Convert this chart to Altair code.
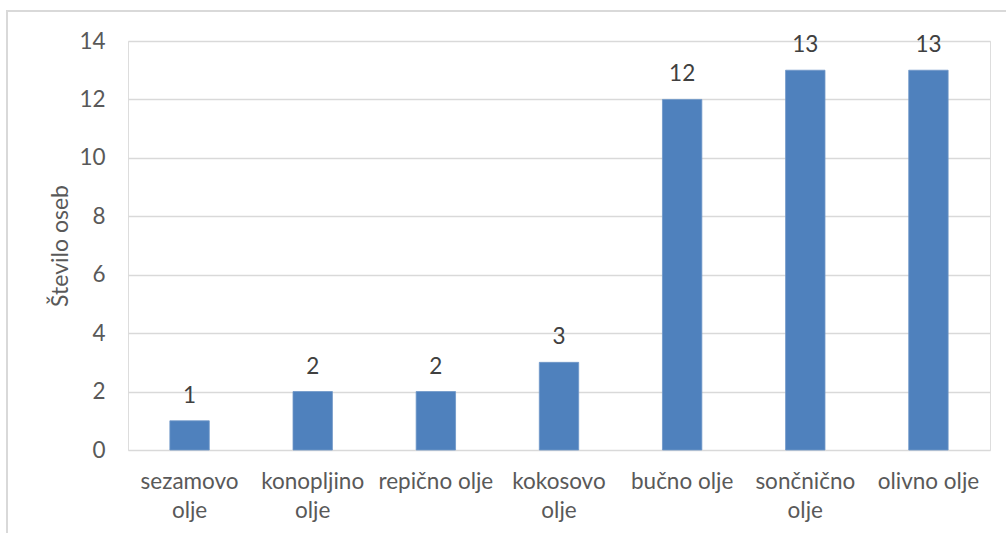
import altair as alt
import pandas as pd

# Number of respondents per type of oil
oils = [
    "sezamovo olje",
    "konopljino olje",
    "repično olje",
    "kokosovo olje",
    "bučno olje",
    "sončnično olje",
    "olivno olje",
]
counts = [1, 2, 2, 3, 12, 13, 13]
y_ticks = [0, 2, 4, 6, 8, 10, 12, 14]

df = pd.DataFrame({"olje": oils, "stevilo": counts})

FONT = "Lato"
SIZE = 22.5
TEXT = "#595959"
GRID = "#d9d9d9"
BAR = "#4f81bd"

x_enc = alt.X(
    "olje:N",
    sort=oils,
    title=None,
    scale=alt.Scale(paddingInner=0.68, paddingOuter=0.34),
    axis=alt.Axis(
        labelAngle=0,
        labelFont=FONT,
        labelFontSize=SIZE,
        labelColor=TEXT,
        labelPadding=20,
        labelLineHeight=29,
        labelExpr="length(datum.label) > 12 ? split(datum.label, ' ') : datum.label",
        domain=False,
        ticks=False,
        grid=False,
    ),
)

y_enc = alt.Y(
    "stevilo:Q",
    title="Število oseb",
    scale=alt.Scale(domain=[0, 14], nice=False),
    axis=alt.Axis(
        values=y_ticks,
        labelFont=FONT,
        labelFontSize=SIZE,
        labelColor=TEXT,
        labelPadding=23,
        domain=False,
        ticks=False,
        gridColor=GRID,
        gridWidth=1.5,
        titleFont=FONT,
        titleFontSize=23,
        titleFontWeight="normal",
        titleColor=TEXT,
        titleX=-68,
        titleBaseline="middle",
    ),
)

bars = alt.Chart(df).mark_bar(
    color=BAR, stroke="#6f97c8", strokeWidth=0.8
).encode(x=x_enc, y=y_enc)

labels = alt.Chart(df).mark_text(
    font=FONT, fontSize=SIZE, color="#404040", baseline="middle", dy=-25
).encode(x=alt.X("olje:N", sort=oils), y="stevilo:Q", text="stevilo:Q")

# Light outer frame around the chart
frame = alt.Chart(df).mark_rect(
    fill=None, stroke=GRID, strokeWidth=1.5, clip=False
).encode(
    x=alt.value(-121), x2=alt.value(900), y=alt.value(-30), y2=alt.value(500)
)

chart = (
    alt.layer(frame, bars, labels)
    .properties(
        width=862,
        height=409,
        autosize=alt.AutoSizeParams(type="none"),
        padding={"left": 128, "top": 41, "right": 16, "bottom": 83},
    )
    .configure_view(stroke=None)
    .configure(background="white")
)

chart.save("out.html", embed_options={"renderer": "svg", "actions": False})
